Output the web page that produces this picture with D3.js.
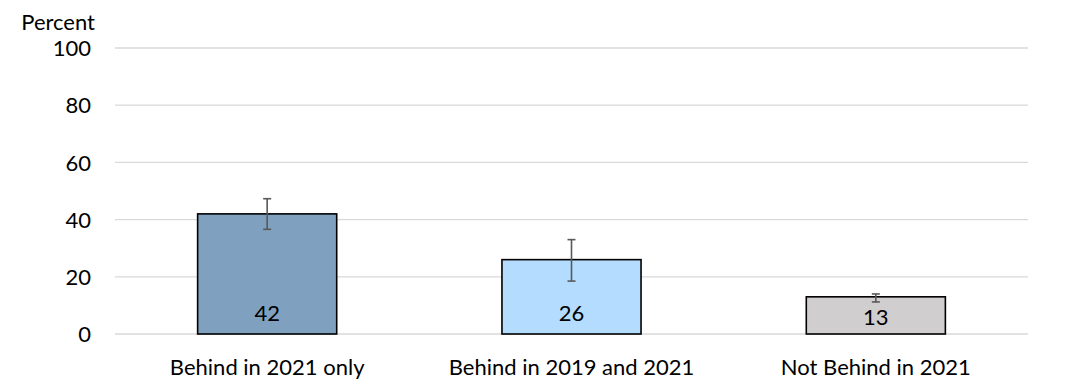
<!DOCTYPE html>
<html>
<head>
<meta charset="utf-8">
<script src="https://cdn.jsdelivr.net/npm/d3@7"></script>
<style>
  html, body { margin: 0; padding: 0; background: #fff; }
  svg { display: block; font-family: Lato, "Open Sans", sans-serif; }
</style>
</head>
<body>
<svg id="chart" width="1071" height="392"></svg>
<script>
const categories = ["Behind in 2021 only", "Behind in 2019 and 2021", "Not Behind in 2021"];
const values = [42, 26, 13];
const errLow = [36.6, 18.5, 11.2];
const errHigh = [47.3, 33.0, 14.0];
const colors = ["#7FA1BF", "#B3DCFF", "#D0CECE"];
const yTicks = [0, 20, 40, 60, 80, 100];

const svg = d3.select("#chart");
const mLeft = 115, mRight = 1028, mTop = 48, mBottom = 334;
const FS = 22;

const x = d3.scaleBand().domain(categories).range([mLeft, mRight]).paddingInner(0.543).paddingOuter(0.2715);
const y = d3.scaleLinear().domain([0, 100]).range([mBottom, mTop]);

// gridlines
svg.append("g").selectAll("line").data(yTicks).join("line")
  .attr("x1", mLeft).attr("x2", mRight)
  .attr("y1", d => y(d)).attr("y2", d => y(d))
  .attr("stroke", "#D9D9D9").attr("stroke-width", 1.3);

// y axis labels
const yAxis = d3.axisLeft(y).tickValues(yTicks).tickSize(0).tickPadding(0);
const gy = svg.append("g").attr("transform", "translate(91,0)").call(yAxis);
gy.select(".domain").remove();
gy.selectAll("text").attr("font-family", "Lato, sans-serif").attr("font-size", FS).attr("fill", "#000").attr("dy", "0.35em");

svg.append("text").attr("x", 95).attr("y", 30).attr("text-anchor", "end")
  .attr("font-size", FS).attr("fill", "#000").text("Percent");

const data = categories.map((c, i) => ({c, v: values[i], lo: errLow[i], hi: errHigh[i], col: colors[i]}));

// bars
svg.append("g").selectAll("rect").data(data).join("rect")
  .attr("x", d => x(d.c)).attr("width", x.bandwidth())
  .attr("y", d => y(d.v)).attr("height", d => y(0) - y(d.v))
  .attr("fill", d => d.col).attr("stroke", "#000").attr("stroke-width", 1.6);

// error bars
const eb = svg.append("g").attr("stroke", "#595959").attr("stroke-width", 1.6);
data.forEach(d => {
  const cx = x(d.c) + x.bandwidth() / 2;
  eb.append("line").attr("x1", cx).attr("x2", cx).attr("y1", y(d.hi)).attr("y2", y(d.lo));
  eb.append("line").attr("x1", cx - 4).attr("x2", cx + 4).attr("y1", y(d.hi)).attr("y2", y(d.hi));
  eb.append("line").attr("x1", cx - 4).attr("x2", cx + 4).attr("y1", y(d.lo)).attr("y2", y(d.lo));
});

// value labels
svg.append("g").selectAll("text").data(data).join("text")
  .attr("x", d => x(d.c) + x.bandwidth() / 2)
  .attr("y", d => Math.max(y(0) - 13, (y(d.v) + y(0)) / 2 + 9.5))
  .attr("text-anchor", "middle").attr("font-size", FS).attr("fill", "#000")
  .text(d => d.v);

// category labels
const xAxis = d3.axisBottom(x).tickSize(0).tickPadding(0);
const gx = svg.append("g").attr("transform", "translate(0,375)").call(xAxis);
gx.select(".domain").remove();
gx.selectAll("text").attr("font-family", "Lato, sans-serif").attr("font-size", FS).attr("fill", "#000").attr("dy", 0);
</script>
</body>
</html>
